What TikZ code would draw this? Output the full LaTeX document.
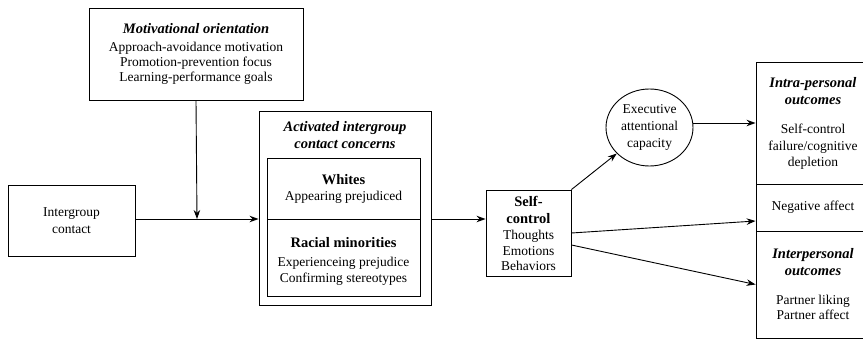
\documentclass[tikz,border=0pt]{standalone}
\usepackage{fontspec}
\setmainfont{Liberation Serif}
\usetikzlibrary{arrows.meta,calc,shapes.geometric}
\newcommand{\hbi}[1]{{\fontsize{14.5}{15}\selectfont\bfseries\itshape #1}}
\newcommand{\hb}[1]{{\fontsize{14.5}{15}\selectfont\bfseries #1}}
\begin{document}
\begin{tikzpicture}[x=1pt,y=-1pt,
 box/.style={draw,line width=0.9pt,inner sep=0pt,align=center,font=\fontsize{13.5}{15}\selectfont},
 txt/.style={inner sep=0pt,align=center,font=\fontsize{13.5}{15}\selectfont},
 arr/.style={line width=0.9pt,-{Stealth[length=9pt,width=6.5pt]}}]
\useasboundingbox (0,0) rectangle (863,342);
\clip (0,0) rectangle (863,342);
\node[box,minimum width=214pt,minimum height=92pt] (motiv) at (196,54) {\hbi{Motivational orientation}\\[3pt]Approach-avoidance motivation\\Promotion-prevention focus\\Learning-performance goals};
\node[box,minimum width=127pt,minimum height=71pt] (ig) at (71.5,220.5) {Intergroup\\[2pt]contact};
\node[box,minimum width=172pt,minimum height=194pt] (act) at (345,208) {};
\node[txt] (acttitle) at (345,135.5) {\hbi{Activated intergroup}\\[2pt]\hbi{contact concerns}};
\node[box,minimum width=153pt,minimum height=61pt] (wh) at (343.5,188.5) {\hb{Whites}\\[1pt]Appearing prejudiced};
\node[box,minimum width=153pt,minimum height=77pt] (rm) at (343.5,257.5) {};
\node[txt] (rmtext) at (343.5,261.5) {\hb{Racial minorities}\\[4pt]Experienceing prejudice\\[1pt]Confirming stereotypes};
\node[box,minimum width=85pt,minimum height=86pt] (sc) at (528.5,233) {\hb{Self-}\\[2pt]\hb{control}\\[1pt]Thoughts\\[1pt]Emotions\\Behaviors};
\node[box,ellipse,minimum width=87pt,minimum height=77pt] (ell) at (649.5,127.5) {Executive\\[2pt]attentional\\[2pt]capacity};
\node[box,minimum width=114pt,minimum height=122pt] (intra) at (813,123) {\hbi{Intra-personal}\\[2pt]\hbi{outcomes}\\[14pt]Self-control\\[2pt]failure/cognitive\\[1pt]depletion};
\node[box,minimum width=114pt,minimum height=47pt] (neg) at (813,207.5) {Negative affect};
\node[box,minimum width=114pt,minimum height=107pt] (inter) at (813,284.5) {\hbi{Interpersonal}\\[2pt]\hbi{outcomes}\\[14pt]Partner liking\\Partner affect};
\coordinate (j) at (197,219);
\draw[arr] (ig.east |- j) -- (act.west |- j);
\draw[arr] (motiv.south) -- (j);
\draw[arr] (act.east |- j) -- (sc.west |- j);
\draw[arr] (sc.north east) -- (ell);
\draw[arr] (ell.east |- intra.west) -- (intra.west);
\draw[arr] (sc.east) -- ($(neg.west)+(0,13.5)$);
\draw[arr] ($(sc.east)+(0,12)$) -- (inter.west);
\end{tikzpicture}
\end{document}
